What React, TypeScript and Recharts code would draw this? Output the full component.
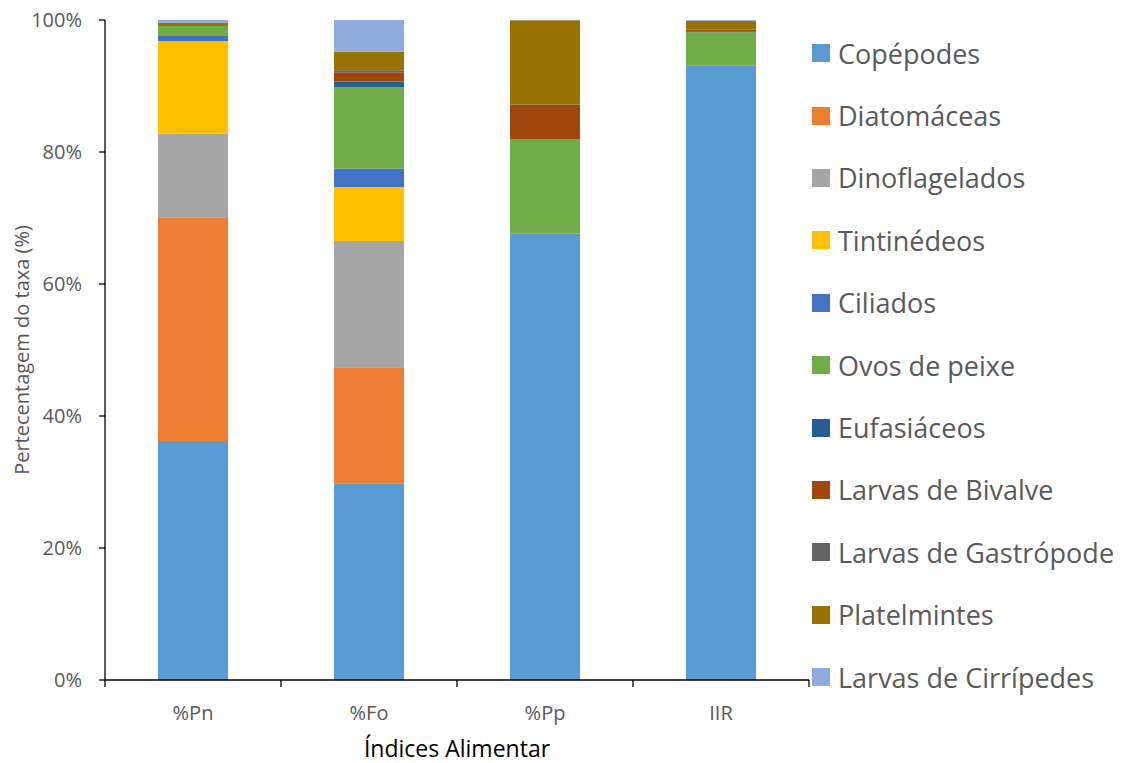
import React from 'react';
import { BarChart, Bar, XAxis, YAxis, Legend, Label } from 'recharts';

const categories = ['%Pn', '%Fo', '%Pp', 'IIR'];
const seriesNames = [
  'Copépodes', 'Diatomáceas', 'Dinoflagelados', 'Tintinédeos', 'Ciliados', 'Ovos de peixe',
  'Eufasiáceos', 'Larvas de Bivalve', 'Larvas de Gastrópode', 'Platelmintes', 'Larvas de Cirrípedes',
];
const copepodes = [36.2, 29.8, 67.6, 92.9];
const diatomaceas = [33.9, 17.6, 0, 0];
const dinoflagelados = [12.7, 19.1, 0, 0];
const tintinedeos = [14.0, 8.2, 0, 0];
const ciliados = [0.9, 2.8, 0, 0.15];
const ovosDePeixe = [1.4, 12.3, 14.3, 5.1];
const eufasiaceos = [0.1, 0.9, 0, 0.15];
const larvasBivalve = [0.05, 1.4, 5.3, 0.25];
const larvasGastropode = [0, 0.3, 0.05, 0.05];
const platelmintes = [0.35, 2.8, 12.7, 1.3];
const larvasCirripedes = [0.4, 4.8, 0.05, 0.1];
const yTicks = [0, 20, 40, 60, 80, 100];

const seriesValues = [
  copepodes, diatomaceas, dinoflagelados, tintinedeos, ciliados, ovosDePeixe,
  eufasiaceos, larvasBivalve, larvasGastropode, platelmintes, larvasCirripedes,
];
const colors = [
  '#5B9BD5', '#ED7D31', '#A5A5A5', '#FFC000', '#4472C4', '#70AD47',
  '#255E91', '#9E480E', '#636363', '#997300', '#8FAADC',
];

const data = categories.map((c, i) => {
  const row: any = { cat: c };
  seriesNames.forEach((s, k) => { row[s] = seriesValues[k][i]; });
  return row;
});

const FONT = '"Open Sans", "Liberation Sans", sans-serif';

const renderLegend = () => (
  <div style={{ fontFamily: FONT }}>
    {seriesNames.map((s, k) => (
      <div key={s} style={{ height: 62.4, display: 'flex', alignItems: 'center' }}>
        <span style={{ width: 18, height: 18, background: colors[k], display: 'inline-block', marginRight: 8, flexShrink: 0 }} />
        <span style={{ fontSize: 27, color: '#595959', whiteSpace: 'nowrap' }}>{s}</span>
      </div>
    ))}
  </div>
);

const CategoryTick = (props: any) => {
  const { x, y, payload, index, visibleTicksCount } = props;
  const half = payload.offset || 0;
  const left = x - half;
  const right = x + half;
  const isLast = index === (visibleTicksCount ?? categories.length) - 1;
  return (
    <g>
      <line x1={left} x2={left} y1={y} y2={y + 7} stroke="#000" strokeWidth={1.3} />
      {isLast && <line x1={right} x2={right} y1={y} y2={y + 7} stroke="#000" strokeWidth={1.3} />}
      <text x={x} y={y + 32} textAnchor="middle" dominantBaseline="central" fill="#595959" fontSize={20} fontFamily={FONT}>
        {payload.value}
      </text>
    </g>
  );
};

export default function App() {
  return (
    <div style={{ position: 'absolute', left: 0, top: 0 }}>
      <BarChart
        width={1128}
        height={763}
        data={data}
        margin={{ top: 20, right: 9, bottom: 0, left: 0 }}
      >
        <XAxis
          dataKey="cat"
          height={83}
          axisLine={{ stroke: '#000', strokeWidth: 1.3 }}
          tickLine={false}
          tickSize={0}
          tickMargin={0}
          tick={<CategoryTick />}
          interval={0}
        >
          <Label value="Índices Alimentar" position="insideBottom" offset={6} style={{ fill: '#000', fontSize: 23, fontFamily: FONT }} />
        </XAxis>
        <YAxis
          width={105}
          domain={[0, 100]}
          ticks={yTicks}
          tickFormatter={(v: number) => `${v}%`}
          tick={{ fill: '#595959', fontSize: 20, fontFamily: FONT }}
          tickSize={6}
          tickMargin={17}
          axisLine={{ stroke: '#000', strokeWidth: 1.3 }}
          tickLine={{ stroke: '#000', strokeWidth: 1.3 }}
          allowDataOverflow
        >
          <Label value="Pertecentagem do taxa (%)" angle={-90} position="insideLeft" offset={22} style={{ fill: '#595959', fontSize: 20, fontFamily: FONT, textAnchor: 'middle' }} />
        </YAxis>
        <Legend
          layout="vertical"
          align="right"
          verticalAlign="top"
          content={renderLegend}
          wrapperStyle={{ left: 812, top: 22, width: 310 }}
        />
        {seriesNames.map((s, k) => (
          <Bar key={s} dataKey={s} stackId="a" fill={colors[k]} barSize={70} isAnimationActive={false} />
        ))}
      </BarChart>
    </div>
  );
}
